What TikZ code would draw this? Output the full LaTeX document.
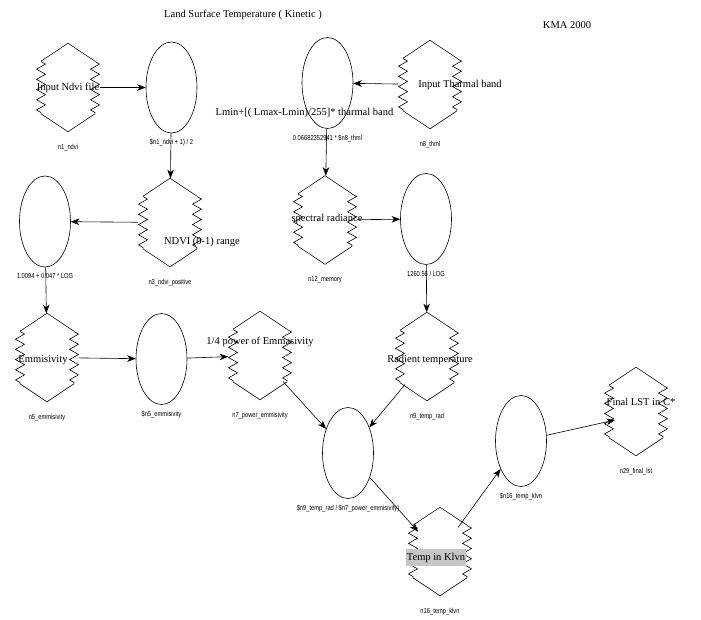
\documentclass[tikz,border=0pt]{standalone}
\usepackage{fontspec}
\setmainfont{Liberation Serif}
\newfontfamily\idfont[FakeStretch=0.8]{Liberation Sans}
\usetikzlibrary{shapes.geometric, positioning, arrows.meta, decorations.pathmorphing}

\tikzset{
  rasterbox/.style={minimum width=63pt, minimum height=88pt, inner sep=0pt},
  funcell/.style={draw, ellipse, minimum width=51pt, minimum height=91pt, inner sep=0pt},
  zig/.style={decorate, decoration={zigzag, segment length=10.2pt, amplitude=4.5pt}},
  idlabel/.style={font=\idfont\fontsize{7.2}{8}\selectfont, inner sep=0pt},
  txt/.style={font=\fontsize{10.5}{12}\selectfont, inner sep=0pt},
}

% raster layer: hexagon with saw-tooth sides, id label below
\newcommand{\rasternode}[3]{%
  \node[rasterbox] (#1) at (#2) {};
  \draw (#1.north) -- ++(-27,18) (#1.north) -- ++(27,18)
        (#1.south) -- ++(-27,-18) (#1.south) -- ++(27,-18);
  \draw[zig] ([shift={(-27,-26)}]#1.center) -- ([shift={(-27,26)}]#1.center);
  \draw[zig] ([shift={(27,-26)}]#1.center) -- ([shift={(27,26)}]#1.center);
  \node[idlabel, below=12pt of #1] (#1l) {#3};
}

\begin{document}
\begin{tikzpicture}[x=1pt, y=-1pt, line width=0.6pt, >={Stealth[length=8.5pt, width=6.5pt, inset=2.5pt]}]
  \useasboundingbox (0,0) rectangle (701,619);

  % titles
  \node[txt] (title) at (243,15) {Land Surface Temperature ( Kinetic )};
  \node[txt] (kma) at (567,25) {KMA 2000};

  % raster layers
  \rasternode{n1}{68,87.5}{n1\_ndvi}
  \rasternode{n3}{170,222.5}{n3\_ndvi\_positive}
  \rasternode{n5}{47,357.5}{n5\_emmisivity}
  \rasternode{n7}{260,355.5}{n7\_power\_emmisivity}
  \rasternode{n8}{430,84.5}{n8\_thml}
  \rasternode{n9}{427,356.5}{n9\_temp\_rad}
  \rasternode{n12}{325,220}{n12\_memory}
  \rasternode{n16}{440,551.5}{n16\_temp\_klvn}
  \rasternode{n29}{636,411.5}{n29\_final\_lst}

  % functions
  \node[funcell] (f1) at (171.5,87.5) {};
  \node[idlabel, below=6pt of f1] (f1l) {\$n1\_ndvi + 1) / 2};
  \node[funcell] (f2) at (45,221.5) {};
  \node[idlabel, below=6pt of f2] (f2l) {1.0094 + 0.047 * LOG};
  \node[funcell] (f3) at (161.5,359) {};
  \node[idlabel, below=6pt of f3] (f3l) {\$n5\_emmisivity};
  \node[funcell] (f4) at (348,453) {};
  \node[idlabel, below=6pt of f4] (f4l) {\$n9\_temp\_rad / \$n7\_power\_emmisivity)};
  \node[funcell] (f5) at (426,219) {};
  \node[idlabel, below=6pt of f5] (f5l) {1260.56 / LOG};
  \node[funcell] (f6) at (327.5,83) {};
  \node[idlabel, below=6pt of f6] (f6l) {0.06682352941 * \$n8\_thml};
  \node[funcell] (f7) at (521,441) {};
  \node[idlabel, below=6pt of f7] (f7l) {\$n16\_temp\_klvn};

  % connections
  \draw[->] (n1) -- (f1);
  \draw[->] (f1) -- (n3);
  \draw[->] (n3) -- (f2);
  \draw[->] (f2) -- (n5);
  \draw[->] (n5) -- (f3);
  \draw[->] (f3) -- (n7);
  \draw[->] ([shift={(23,26)}]n7.center) -- (f4);
  \draw[->] ([shift={(-22,28)}]n9.center) -- (f4);
  \draw[->] (f4) -- ([shift={(-22,-20)}]n16.center);
  \draw[->] ([shift={(18,-24)}]n16.center) -- (f7);
  \draw[->] (f7) -- ([shift={(-21,8.5)}]n29.center);
  \draw[->] (n8) -- (f6);
  \draw[->] (f6) -- (n12);
  \draw[->] (n12) -- (f5);
  \draw[->] (f5) -- (n9);

  % layer descriptions
  \node[txt] (n1t) at (n1) {Input Ndvi file};
  \node[txt] (n3t) at ([shift={(32,19.5)}]n3.center) {NDVI (0-1) range};
  \node[txt] (n5t) at ([shift={(-4,2.5)}]n5.center) {Emmisivity};
  \node[txt] (n7t) at ([shift={(0,-13.5)}]n7.center) {1/4 power of Emmasivity};
  \node[txt] (n8t) at ([shift={(30,0.5)}]n8.center) {Input Tharmal band};
  \node[txt] (n9t) at ([shift={(3,3.5)}]n9.center) {Radient temperature};
  \node[txt] (n12t) at ([shift={(2,-1)}]n12.center) {spectral radiance};
  \node[txt, fill=gray!45, inner xsep=0.5pt, inner ysep=4pt] (n16t) at ([shift={(-4,6)}]n16.center) {Temp in Klvn};
  \node[txt] (n29t) at ([shift={(5,-9.5)}]n29.center) {Final LST in C*};
  \node[txt] (f6t) at ([shift={(-23,30)}]f6.center) {Lmin+[( Lmax-Lmin)/255]* tharmal band};
\end{tikzpicture}
\end{document}
